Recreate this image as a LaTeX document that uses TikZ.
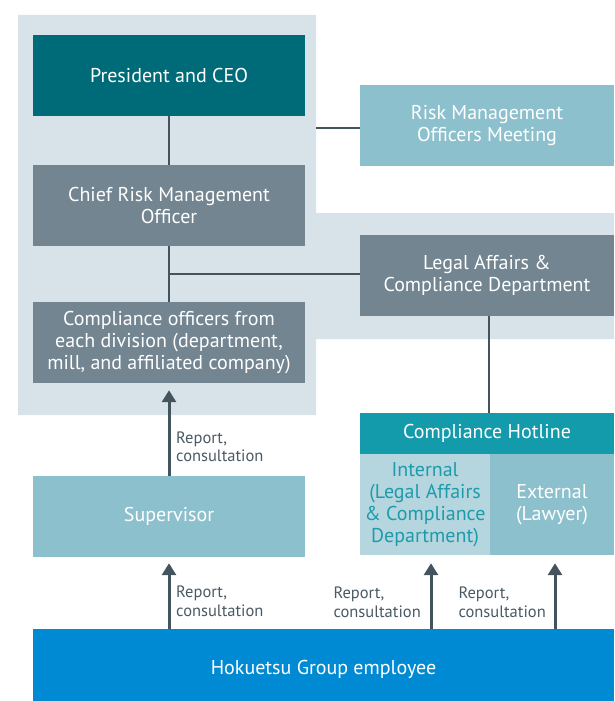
\documentclass[tikz,border=0pt]{standalone}
\usepackage{fontspec}
\setmainfont{PT Sans}
\usetikzlibrary{arrows.meta}

\definecolor{bgpale}{HTML}{D8E3E9}
\definecolor{ceoc}{HTML}{006B78}
\definecolor{greyc}{HTML}{728591}
\definecolor{paleblue}{HTML}{8DC0CD}
\definecolor{hotc}{HTML}{139AAB}
\definecolor{internc}{HTML}{B5D6DF}
\definecolor{interntext}{HTML}{1D9BAA}
\definecolor{empc}{HTML}{008AD4}
\definecolor{linec}{HTML}{44545E}
\definecolor{lblc}{HTML}{4A5963}

\begin{document}
\begin{tikzpicture}[x=1pt,y=-1pt]

    % rozměry boxů
    \def\wL{272}
    \def\wR{254}
    \def\hB{81}

    % styly
    \tikzset{
        box/.style={fill=#1, text=white, minimum height=\hB pt, inner sep=0pt, align=center, font=\fontsize{20}{22}\selectfont},
        leftbox/.style={box=#1, minimum width=\wL pt},
        rightbox/.style={box=#1, minimum width=\wR pt},
        link/.style={draw=linec, line width=2.5pt},
        arr/.style={draw=linec, line width=3pt, -{Triangle[width=14pt,length=12pt]}},
        lbl/.style={text=lblc, align=left, inner sep=0pt, font=\fontsize{16.5}{18.5}\selectfont}
    }

    \useasboundingbox (0,0) rectangle (614,701);

    % pozadí
    \fill[bgpale] (18,15) -- (316,15) -- (316,213) -- (614,213) -- (614,339)
        -- (316,339) -- (316,415) -- (18,415) -- cycle;

    % --- levý sloupec ---
    \node[leftbox=ceoc] (ceo) at (169,75.5) {President and CEO};
    \node[leftbox=greyc] (crmo) at (169,205.5) {Chief Risk Management\\Officer};
    \node[leftbox=greyc] (cof) at (169,342.5) {Compliance officers from\\each division (department,\\mill, and affiliated company)};
    \node[leftbox=paleblue] (super) at (169,516.5) {Supervisor};

    % --- pravý sloupec ---
    \node[rightbox=paleblue] (rmom) at (487,125.5) {Risk Management\\Officers Meeting};
    \node[rightbox=greyc] (lacd) at (487,275.5) {Legal Affairs \&\\Compliance Department};
    \node[box=hotc, minimum width=\wR pt, minimum height=41pt] (hotline) at (487,433.5) {Compliance Hotline};
    \node[box=internc, text=interntext, minimum width=130pt, minimum height=101pt] (internal) at (425,504.5) {Internal\\(Legal Affairs\\\& Compliance\\Department)};
    \node[box=paleblue, minimum width=124pt, minimum height=101pt] (external) at (552,504.5) {External\\(Lawyer)};

    % zaměstnanci
    \node[box=empc, minimum width=581pt] (employee) at (323.5,669.5) {Hokuetsu Group employee};

    % spojnice
    \coordinate (edge) at (316,128);
    \coordinate (junc) at (169,274);
    \draw[link] (ceo) -- (crmo);
    \draw[link] (crmo) -- (cof);
    \draw[link] (junc) -- (junc -| lacd.west);
    \draw[link] (edge) -- (edge -| rmom.west);
    \draw[link] ([xshift=2pt]lacd.south) -- ([xshift=2pt]hotline.north);

    % šipky hlášení
    \draw[arr, shorten >=7pt] (super) -- (cof);
    \draw[arr, shorten >=6pt] (employee.north -| super) -- (super);
    \draw[arr, shorten >=8pt] ([xshift=6pt]internal.south |- employee.north) -- ([xshift=6pt]internal.south);
    \draw[arr, shorten >=8pt] ([xshift=3pt]external.south |- employee.north) -- ([xshift=3pt]external.south);

    % popisky
    \node[lbl, anchor=west] (rep1) at (176,447) {Report,\\consultation};
    \node[lbl, anchor=west] (rep2) at (176,601) {Report,\\consultation};
    \node[lbl, anchor=east] (rep3) at (421,602) {Report,\\consultation};
    \node[lbl, anchor=east] (rep4) at (546,602) {Report,\\consultation};

\end{tikzpicture}
\end{document}
